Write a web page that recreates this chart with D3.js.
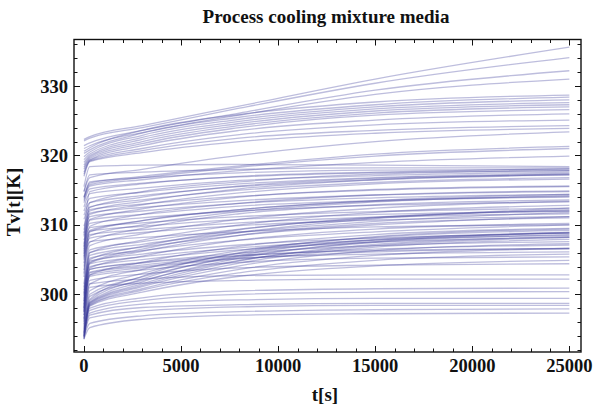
<!DOCTYPE html>
<html>
<head>
<meta charset="utf-8">
<script src="https://cdn.jsdelivr.net/npm/d3@7/dist/d3.min.js"></script>
<style>
  html, body { margin: 0; padding: 0; background: #fff; }
  svg { display: block; }
  text { font-family: "Liberation Serif", "Times New Roman", serif; font-weight: bold; fill: #111; }
</style>
</head>
<body>
<svg id="chart" width="598" height="412"></svg>
<script>
// Sample times (s) at which each temperature history is tabulated
const times = [0, 300, 3000, 8000, 15000, 25000];

// Temperature histories Tv(t) in K, one row per run, values at `times`
const upperRuns = [
  [322.3, 322.7, 324.3, 327.1, 331.0, 335.6],
  [322.1, 322.5, 324.0, 326.8, 330.4, 334.1],
  [321.4, 321.8, 323.6, 326.1, 329.4, 332.2],
  [321.0, 321.4, 323.3, 325.8, 328.8, 331.0],
  [320.6, 321.1, 323.6, 325.9, 327.7, 328.7],
  [320.3, 320.8, 323.2, 325.5, 327.3, 328.4],
  [319.8, 320.5, 322.9, 325.2, 327.0, 328.0],
  [319.4, 320.2, 322.6, 324.9, 326.7, 327.6],
  [319.0, 320.0, 322.3, 324.6, 326.4, 327.3],
  [318.6, 319.8, 322.0, 324.3, 326.1, 327.0],
  [318.3, 319.6, 321.7, 324.0, 325.8, 326.6],
  [318.0, 319.4, 321.4, 323.6, 325.1, 326.0],
  [317.6, 319.3, 321.0, 323.0, 324.4, 325.1],
  [317.3, 319.2, 320.7, 322.5, 323.6, 324.3],
  [317.0, 319.1, 320.4, 322.0, 323.2, 323.9]
];
const crossingRuns = [
  [314.8, 316.8, 318.0, 320.0, 322.0, 323.4],
  [314.0, 316.0, 317.0, 318.5, 320.2, 321.3],
  [313.8, 315.8, 316.8, 318.3, 319.9, 321.0],
  [313.5, 315.6, 316.5, 317.8, 319.0, 319.9]
];
const bandB = [
  [315.5, 318.4, 318.6, 318.7, 318.6, 318.4],
  [314.8, 317.2, 317.6, 318.0, 318.2, 318.2],
  [314.0, 316.2, 316.8, 317.5, 317.9, 318.0],
  [313.2, 315.2, 316.0, 316.9, 317.5, 317.8],
  [312.6, 314.5, 315.3, 316.4, 317.1, 317.6],
  [312.0, 313.8, 314.7, 315.9, 316.8, 317.4],
  [311.4, 313.2, 314.2, 315.5, 316.5, 317.2],
  [310.8, 312.6, 313.6, 315.0, 316.1, 316.8]
];
const bandC = [
  [309.8, 312.2, 313.0, 314.1, 315.0, 315.5],
  [309.3, 311.7, 312.5, 313.5, 314.3, 314.8],
  [308.8, 311.2, 312.0, 313.1, 313.9, 314.4],
  [308.3, 310.7, 311.5, 312.7, 313.5, 314.1],
  [307.8, 310.2, 311.0, 312.0, 312.8, 313.3],
  [307.3, 309.6, 310.3, 311.2, 311.9, 312.4],
  [306.8, 309.1, 309.8, 310.8, 311.5, 312.0],
  [306.3, 308.6, 309.3, 310.3, 311.1, 311.6],
  [305.8, 308.1, 308.9, 309.9, 310.7, 311.2],
  [305.3, 307.6, 308.2, 309.0, 309.7, 310.0]
];
const bandM = [
  [307.0, 313.2, 314.8, 316.2, 317.3, 317.8],
  [306.5, 312.5, 314.0, 315.6, 316.7, 317.2],
  [305.0, 310.8, 312.3, 314.0, 315.1, 315.6],
  [304.5, 309.8, 311.5, 313.1, 314.3, 314.9],
  [304.0, 309.0, 310.6, 312.2, 313.4, 314.0],
  [303.5, 307.5, 309.5, 311.6, 312.9, 313.6],
  [299.0, 306.0, 307.8, 310.0, 311.8, 312.8],
  [298.5, 305.0, 306.9, 309.3, 311.1, 312.0],
  [298.0, 304.5, 306.2, 308.5, 310.2, 311.0],
  [297.5, 303.8, 305.5, 307.8, 309.4, 310.2],
  [297.0, 302.8, 304.6, 306.9, 308.6, 309.5],
  [296.5, 301.5, 303.6, 306.3, 308.2, 309.2],
  [296.2, 300.5, 303.0, 305.9, 307.8, 308.8]
];
const bandN = [
  [300.0, 304.6, 306.5, 308.9, 310.9, 312.2],
  [301.5, 307.0, 308.7, 310.8, 312.4, 313.4],
  [302.5, 308.4, 310.0, 311.9, 313.3, 314.2],
  [295.5, 300.0, 302.5, 305.4, 307.6, 308.9],
  [295.2, 299.7, 302.0, 304.9, 307.0, 308.2],
  [303.0, 309.2, 310.6, 312.2, 313.5, 314.4],
  [305.5, 311.5, 312.9, 314.6, 315.9, 316.6],
  [306.0, 312.0, 313.4, 315.2, 316.5, 317.3],
  [308.5, 314.8, 315.9, 317.0, 317.6, 318.1]
];
const bandD = [
  [301.0, 306.4, 307.6, 309.4, 311.0, 312.4],
  [300.6, 306.0, 307.2, 308.9, 310.5, 311.8],
  [300.2, 305.6, 306.8, 308.5, 310.0, 311.2],
  [299.8, 305.2, 306.3, 307.8, 309.0, 310.0],
  [299.4, 304.8, 305.8, 307.1, 308.1, 308.8],
  [299.0, 304.4, 305.4, 306.7, 307.8, 308.5],
  [298.6, 304.0, 305.0, 306.4, 307.5, 308.2],
  [298.2, 303.6, 304.6, 305.9, 307.0, 307.6],
  [297.8, 303.2, 304.2, 305.5, 306.5, 307.1],
  [297.4, 302.8, 303.8, 305.1, 306.1, 306.6]
];
const bandE = [
  [298.0, 303.6, 304.5, 305.6, 306.3, 306.6],
  [297.5, 303.1, 304.0, 305.2, 305.8, 306.1],
  [297.0, 302.6, 303.5, 304.6, 305.2, 305.4],
  [296.5, 302.0, 302.9, 303.8, 304.2, 304.4],
  [296.0, 301.5, 302.2, 302.7, 302.8, 302.8],
  [295.7, 301.0, 301.6, 302.0, 302.2, 302.2]
];
const bandF = [
  [295.0, 299.3, 302.6, 306.0, 308.3, 309.4],
  [294.8, 299.1, 302.2, 305.6, 307.9, 308.9],
  [294.6, 298.9, 301.8, 305.2, 307.5, 308.6],
  [294.4, 298.8, 301.5, 304.8, 307.2, 308.3],
  [294.2, 298.7, 301.3, 304.5, 306.8, 307.9],
  [294.0, 298.6, 301.1, 304.1, 306.3, 307.3],
  [293.8, 298.5, 300.8, 303.6, 305.6, 306.6],
  [293.6, 298.4, 300.6, 303.1, 304.9, 305.8],
  [293.5, 298.3, 300.3, 302.6, 304.1, 304.9]
];
const lowerRuns = [
  [294.5, 298.0, 299.5, 300.5, 300.8, 300.9],
  [294.3, 297.7, 299.1, 300.0, 300.3, 300.4],
  [294.1, 297.3, 298.6, 299.2, 299.4, 299.4],
  [294.0, 297.0, 298.1, 298.5, 298.7, 298.7],
  [293.8, 296.6, 297.6, 298.2, 298.4, 298.4],
  [293.9, 295.8, 296.9, 297.5, 297.8, 297.9],
  [293.6, 295.2, 296.4, 297.0, 297.2, 297.3]
];

// Axis ticks
const xMajorTicks = [0, 5000, 10000, 15000, 20000, 25000];
const xMinorTicks = d3.range(0, 25001, 1000);
const yMajorTicks = [300, 310, 320, 330];
const yMinorTicks = d3.range(292, 337, 2);

const titleText = "Process cooling mixture media";
const xLabel = "t[s]";
const yLabel = "Tv[t][K]";

const runs = [].concat(upperRuns, crossingRuns, bandB, bandC, bandM, bandN, bandD, bandE, bandF, lowerRuns);

const frame = { left: 74, right: 581, top: 39.5, bottom: 352 };
const svg = d3.select("#chart");

const x = d3.scaleLinear().domain([-515, 25600]).range([frame.left, frame.right]);
const y = d3.scaleLinear().domain([291.69, 336.7]).range([frame.bottom, frame.top]);

svg.append("defs").append("clipPath").attr("id", "plotClip")
  .append("rect")
  .attr("x", frame.left).attr("y", frame.top)
  .attr("width", frame.right - frame.left).attr("height", frame.bottom - frame.top);

// Curves
const line = d3.line()
  .x((d, i) => x(times[i]))
  .y(d => y(d))
  .curve(d3.curveMonotoneX);

svg.append("g")
  .attr("clip-path", "url(#plotClip)")
  .selectAll("path")
  .data(runs)
  .join("path")
  .attr("d", line)
  .attr("fill", "none")
  .attr("stroke", "#3f3f9c")
  .attr("stroke-opacity", 0.34)
  .attr("stroke-width", 1.3);

// Frame ticks, drawn inward on all four sides
const major = 6, minor = 3.5;
const ticks = svg.append("g").attr("stroke", "#111").attr("stroke-width", 1);

function xTicks(values, len) {
  values.forEach(v => {
    const px = Math.round(x(v)) + 0.5;
    ticks.append("line").attr("x1", px).attr("x2", px).attr("y1", frame.bottom).attr("y2", frame.bottom - len);
    ticks.append("line").attr("x1", px).attr("x2", px).attr("y1", frame.top).attr("y2", frame.top + len);
  });
}
function yTicks(values, len) {
  values.forEach(v => {
    const py = Math.round(y(v)) + 0.5;
    ticks.append("line").attr("y1", py).attr("y2", py).attr("x1", frame.left).attr("x2", frame.left + len);
    ticks.append("line").attr("y1", py).attr("y2", py).attr("x1", frame.right).attr("x2", frame.right - len);
  });
}
xTicks(xMinorTicks.filter(v => !xMajorTicks.includes(v)), minor);
xTicks(xMajorTicks, major);
yTicks(yMinorTicks.filter(v => !yMajorTicks.includes(v)), minor);
yTicks(yMajorTicks, major);

// Frame
svg.append("rect")
  .attr("x", frame.left).attr("y", frame.top)
  .attr("width", frame.right - frame.left).attr("height", frame.bottom - frame.top)
  .attr("fill", "none").attr("stroke", "#111").attr("stroke-width", 1.4);

// Tick labels
svg.append("g").selectAll("text")
  .data(xMajorTicks)
  .join("text")
  .attr("x", d => x(d))
  .attr("y", 372)
  .attr("text-anchor", "middle")
  .attr("font-size", 18.5)
  .text(d => d);

svg.append("g").selectAll("text")
  .data(yMajorTicks)
  .join("text")
  .attr("x", 68)
  .attr("y", d => y(d) + 6.5)
  .attr("text-anchor", "end")
  .attr("font-size", 18.5)
  .text(d => d);

// Title and axis labels
svg.append("text")
  .attr("x", 326).attr("y", 23)
  .attr("text-anchor", "middle")
  .attr("font-size", 19)
  .text(titleText);

svg.append("text")
  .attr("x", 325).attr("y", 401)
  .attr("text-anchor", "middle")
  .attr("font-size", 19)
  .text(xLabel);

svg.append("text")
  .attr("transform", "translate(20,202) rotate(-90)")
  .attr("text-anchor", "middle")
  .attr("font-size", 19)
  .text(yLabel);
</script>
</body>
</html>
